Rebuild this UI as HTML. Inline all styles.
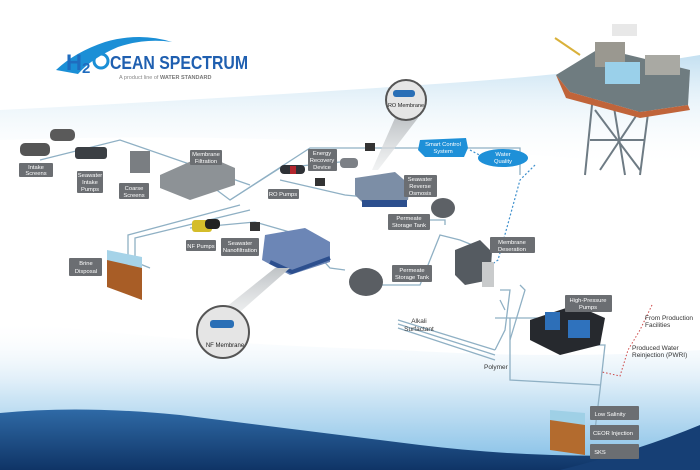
<!DOCTYPE html>
<html><head><meta charset="utf-8"><style>
html,body{margin:0;padding:0;background:#fff;}
svg{display:block;font-family:"Liberation Sans",sans-serif;}
.lb{fill:#6b6e72;}
.lt{fill:#fff;font-size:5.8px;text-anchor:middle;}
.ln{fill:none;stroke:#8fb0c4;stroke-width:1.3;}
.dt{fill:#333;font-size:6.5px;}
</style></head><body>
<svg width="700" height="470" viewBox="0 0 700 470" xmlns="http://www.w3.org/2000/svg">
<defs>
<linearGradient id="sky" x1="0" y1="0" x2="0" y2="1">
<stop offset="0" stop-color="#c4e0f1"/><stop offset="1" stop-color="#ffffff" stop-opacity="0"/></linearGradient>
<linearGradient id="sea" x1="0" y1="0" x2="0" y2="1">
<stop offset="0" stop-color="#ffffff" stop-opacity="0"/><stop offset="0.5" stop-color="#cfe6f5"/><stop offset="1" stop-color="#7fbde6"/></linearGradient>
<linearGradient id="deep" x1="0" y1="0" x2="0" y2="1">
<stop offset="0" stop-color="#2f6aa6"/><stop offset="1" stop-color="#0f3466"/></linearGradient>
<linearGradient id="cone" x1="0" y1="0" x2="0" y2="1">
<stop offset="0" stop-color="#bfc3c6"/><stop offset="1" stop-color="#e8eaeb" stop-opacity="0.6"/></linearGradient>
</defs>
<!-- background -->
<path d="M0 110 Q200 100 420 85 Q580 75 700 55 L700 170 Q500 150 300 140 Q150 135 0 140Z" fill="url(#sky)"/>
<path d="M0 320 Q200 345 400 350 Q560 360 700 350 L700 470 L0 470Z" fill="url(#sea)"/>
<path d="M0 413 Q80 405 180 415 Q300 430 420 445 Q560 462 700 452 L700 470 L0 470Z" fill="url(#deep)"/>
<path d="M560 470 Q640 450 700 425 L700 470Z" fill="#163f75"/>

<!-- logo -->
<path d="M56 70 Q75 52 105 42 Q140 32 172 42 Q145 38 118 47 Q92 58 78 74Z" fill="#1b8fd6"/>
<text x="66" y="70" font-size="22" font-weight="bold" fill="#1f6cbf" textLength="16" lengthAdjust="spacingAndGlyphs">H</text>
<text x="82" y="73" font-size="15" font-weight="bold" fill="#1f6cbf">2</text>
<circle cx="101" cy="61" r="7" fill="none" stroke="#1b8fd6" stroke-width="3"/>
<text x="110" y="69" font-size="18" font-weight="bold" fill="#1f5fb0" textLength="138" lengthAdjust="spacingAndGlyphs">CEAN SPECTRUM</text>
<text x="119" y="79" font-size="5.5" fill="#888">A product line of <tspan font-weight="bold" fill="#777">WATER STANDARD</tspan></text>

<!-- platform -->
<g>
<path d="M593 95 L585 175 M612 95 L625 175 M650 98 L640 175 M595 110 L640 170 M640 110 L600 170 M590 140 L645 140" stroke="#6e7b84" stroke-width="2" fill="none"/>
<path d="M556 75 L600 48 L690 70 L688 105 L640 112 L570 92Z" fill="#6f7c80"/>
<path d="M556 75 L570 92 L640 112 L688 105 L690 110 L640 118 L566 98Z" fill="#c0643a"/>
<rect x="595" y="42" width="30" height="25" fill="#9a9890"/>
<rect x="605" y="62" width="35" height="22" fill="#9ad0ea"/>
<path d="M555 38 L580 55" stroke="#d9b13a" stroke-width="2"/>
<rect x="612" y="24" width="25" height="12" fill="#e8e8e8"/>
<rect x="645" y="55" width="35" height="20" fill="#a9a9a3"/>
</g>

<!-- connector lines -->
<g class="ln">
<path d="M40 160 L120 140 L250 185"/>
<path d="M210 185 L230 200 L310 148 L520 148 L520 175"/>
<path d="M230 200 L280 168 L340 162 M280 180 L345 195 L395 200"/>
<path d="M128 262 L128 235 L240 205 M135 262 L135 238 L250 210"/>
<path d="M190 228 L255 222 L300 235 L330 268 L345 270"/>
<path d="M380 285 L420 285 L440 235 L460 240 L485 250"/>
<path d="M430 220 L445 220 L445 225"/>
<path d="M500 290 L510 290 L505 330 L495 350 M520 285 L525 290 L510 340 M500 300 L505 310"/>
<path d="M398 320 L495 350 M398 324 L495 355 M398 328 L495 360"/>
<path d="M495 318 L540 318 M510 318 L510 380 L600 385"/>
<path d="M595 345 L605 345 L600 390 L595 430"/>
<path d="M150 268 L135 262"/>
</g>
<path d="M535 165 L520 180 L498 260 L470 280" stroke="#3d8fcc" stroke-width="1.2" stroke-dasharray="2 2" fill="none"/>
<path d="M470 150 L485 158" stroke="#3d8fcc" stroke-width="1.2" stroke-dasharray="2 2"/>
<path d="M652 305 L640 330 L628 350 L620 376 L602 372" stroke="#c44" stroke-width="1" stroke-dasharray="1.5 2" fill="none"/>

<!-- equipment -->
<g>
<rect x="20" y="143" width="30" height="13" rx="5" fill="#555"/><rect x="50" y="129" width="25" height="12" rx="5" fill="#5a5a5a"/>
<rect x="75" y="147" width="32" height="12" rx="3" fill="#3b3f44"/>
<rect x="130" y="151" width="20" height="22" fill="#7a7e82"/>
<path d="M160 175 L205 155 L235 168 L235 185 L190 200 L160 188Z" fill="#8d9296"/>
<rect x="280" y="165" width="25" height="9" rx="4" fill="#2e3136"/><rect x="290" y="166" width="6" height="8" fill="#b3262d"/>
<rect x="340" y="158" width="18" height="10" rx="4" fill="#7c8086"/>
<rect x="365" y="143" width="10" height="8" fill="#333"/><rect x="315" y="178" width="10" height="8" fill="#333"/>
<path d="M355 178 L395 172 L410 185 L408 200 L365 205 L355 195Z" fill="#7c8ea6"/>
<rect x="362" y="200" width="45" height="7" fill="#2c4f8e"/>
<ellipse cx="443" cy="208" rx="12" ry="10" fill="#5d6166"/>
<rect x="192" y="220" width="20" height="12" rx="3" fill="#d4bd2a"/><rect x="205" y="219" width="15" height="10" rx="4" fill="#222"/>
<rect x="250" y="222" width="10" height="9" fill="#333"/>
<path d="M265 235 L305 228 L330 242 L330 262 L290 275 L262 260Z" fill="#6c86b6"/>
<path d="M270 262 L292 272 L330 258" stroke="#2c4f8e" stroke-width="4" fill="none"/>
<ellipse cx="366" cy="282" rx="17" ry="14" fill="#5a5e63"/>
<path d="M455 250 L480 240 L492 252 L490 280 L465 285 L455 275Z" fill="#555b61"/>
<rect x="482" y="262" width="12" height="25" fill="#c9cbcc"/>
<path d="M530 320 L575 305 L605 318 L600 345 L560 355 L530 340Z" fill="#26292e"/>
<rect x="545" y="312" width="15" height="18" fill="#2d6fb8"/><rect x="568" y="320" width="22" height="18" fill="#2f72bd"/>
<path d="M550 415 L585 418 L585 455 L550 450Z" fill="#b36b2e"/>
<path d="M550 410 L585 413 L585 425 L550 420Z" fill="#9fd0e6"/>
<path d="M107 255 L142 262 L142 300 L107 287Z" fill="#a85d26"/>
<path d="M107 250 L142 257 L142 268 L107 260Z" fill="#a6d3e8"/>
</g>

<!-- callout cones -->
<path d="M395 118 L418 118 L378 170 L372 170Z" fill="url(#cone)"/>
<circle cx="406" cy="100" r="20" fill="#e5e5e5" stroke="#555" stroke-width="2"/>
<rect x="393" y="90" width="22" height="7" rx="3" fill="#2a6fb6"/>
<text x="406" y="107" font-size="5.5" text-anchor="middle" fill="#222">RO Membrane</text>
<path d="M210 320 L240 312 L290 268 L275 268Z" fill="url(#cone)"/>
<circle cx="223" cy="332" r="26" fill="#e5e5e5" stroke="#555" stroke-width="2"/>
<rect x="210" y="320" width="24" height="8" rx="3" fill="#2a6fb6"/>
<text x="225" y="347" font-size="6" text-anchor="middle" fill="#222">NF Membrane</text>

<!-- labels -->
<g>
<rect class="lb" x="19" y="163" width="34" height="14" rx="1"/><text class="lt" x="36" y="169">Intake</text><text class="lt" x="36" y="175">Screens</text>
<rect class="lb" x="77" y="171" width="26" height="22" rx="1"/><text class="lt" x="90" y="177">Seawater</text><text class="lt" x="90" y="184">Intake</text><text class="lt" x="90" y="191">Pumps</text>
<rect class="lb" x="119" y="183" width="30" height="16" rx="1"/><text class="lt" x="134" y="190">Coarse</text><text class="lt" x="134" y="197">Screens</text>
<rect class="lb" x="190" y="150" width="32" height="15" rx="1"/><text class="lt" x="206" y="156">Membrane</text><text class="lt" x="206" y="163">Filtration</text>
<rect class="lb" x="308" y="149" width="29" height="22" rx="1"/><text class="lt" x="322" y="155">Energy</text><text class="lt" x="322" y="162">Recovery</text><text class="lt" x="322" y="169">Device</text>
<rect class="lb" x="268" y="189" width="31" height="10" rx="1"/><text class="lt" x="283" y="196">RO Pumps</text>
<rect class="lb" x="404" y="175" width="33" height="22" rx="1"/><text class="lt" x="420" y="181">Seawater</text><text class="lt" x="420" y="188">Reverse</text><text class="lt" x="420" y="195">Osmosis</text>
<rect class="lb" x="388" y="214" width="42" height="16" rx="1"/><text class="lt" x="409" y="220">Permeate</text><text class="lt" x="409" y="227">Storage Tank</text>
<rect class="lb" x="186" y="240" width="30" height="11" rx="1"/><text class="lt" x="201" y="248">NF Pumps</text>
<rect class="lb" x="221" y="238" width="38" height="18" rx="1"/><text class="lt" x="240" y="245">Seawater</text><text class="lt" x="240" y="252">Nanofiltration</text>
<rect class="lb" x="392" y="265" width="40" height="17" rx="1"/><text class="lt" x="412" y="272">Permeate</text><text class="lt" x="412" y="279">Storage Tank</text>
<rect class="lb" x="490" y="237" width="45" height="16" rx="1"/><text class="lt" x="512" y="244">Membrane</text><text class="lt" x="512" y="251">Deseration</text>
<rect class="lb" x="69" y="258" width="33" height="18" rx="1"/><text class="lt" x="86" y="265">Brine</text><text class="lt" x="86" y="273">Disposal</text>
<rect class="lb" x="565" y="295" width="47" height="17" rx="1"/><text class="lt" x="588" y="302">High-Pressure</text><text class="lt" x="588" y="309">Pumps</text>
<rect class="lb" x="590" y="406" width="49" height="14" rx="1"/><text class="lt" x="610" y="416">Low Salinity</text>
<rect class="lb" x="590" y="425" width="49" height="15" rx="1"/><text class="lt" x="613" y="435">CEOR Injection</text>
<rect class="lb" x="590" y="444" width="49" height="15" rx="1"/><text class="lt" x="600" y="454">SKS</text>
<path d="M420 140 L466 138 L468 148 L464 157 L425 157 L418 150Z" fill="#1e90d8"/>
<text class="lt" x="443" y="146">Smart Control</text><text class="lt" x="443" y="153">System</text>
<ellipse cx="503" cy="158" rx="25" ry="9" fill="#1e90d8"/>
<text class="lt" x="503" y="156">Water</text><text class="lt" x="503" y="163">Quality</text>
<text class="dt" x="419" y="323" text-anchor="middle">Alkali</text><text class="dt" x="419" y="331" text-anchor="middle">Surfactant</text>
<text class="dt" x="484" y="369">Polymer</text>
<text class="dt" x="645" y="320" font-size="6">From Production</text><text class="dt" x="645" y="327" font-size="6">Facilities</text>
<text class="dt" x="632" y="350" font-size="6">Produced Water</text><text class="dt" x="632" y="357" font-size="6">Reinjection (PWRI)</text>
</g>
</svg>
</body></html>
